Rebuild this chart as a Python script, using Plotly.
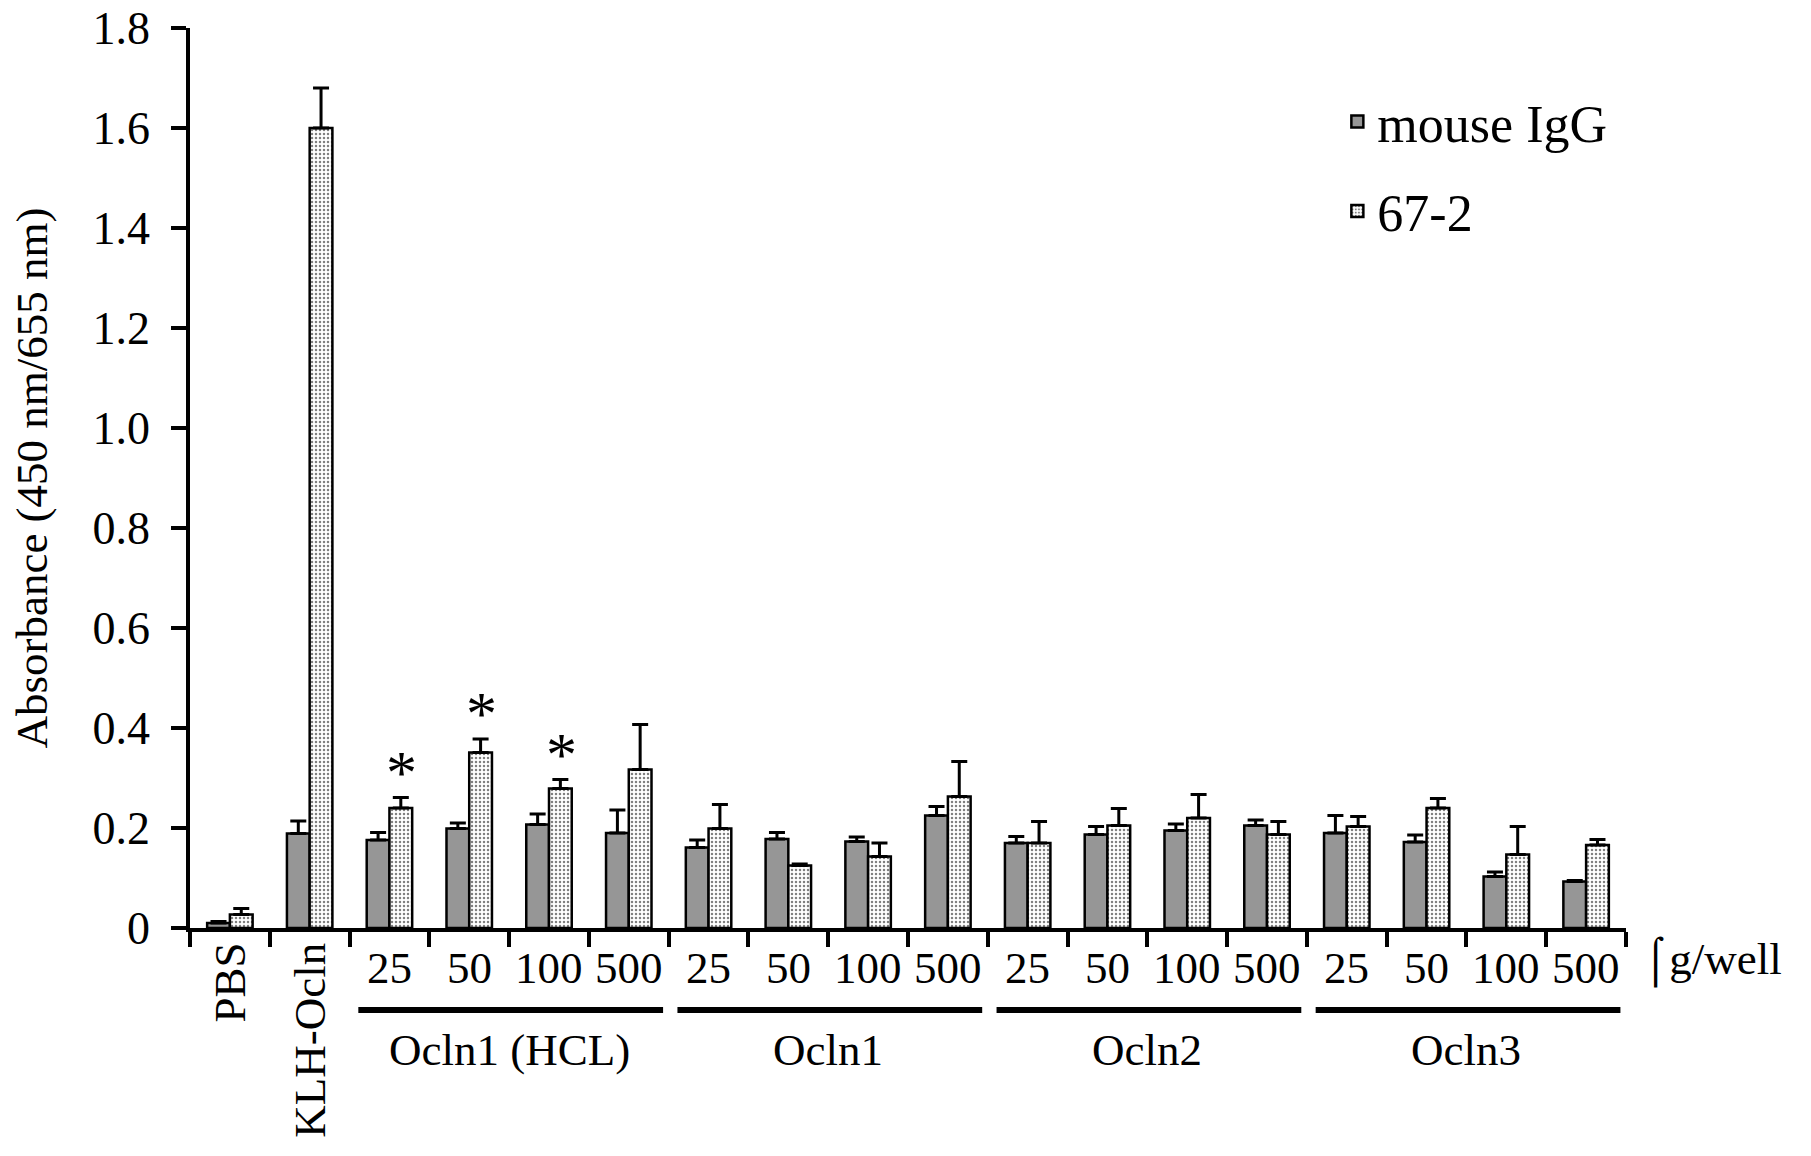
import plotly.graph_objects as go

# ---------------- data ----------------
dose_labels = ["PBS", "KLH-Ocln",
               "25", "50", "100", "500",
               "25", "50", "100", "500",
               "25", "50", "100", "500",
               "25", "50", "100", "500"]
group_names = ["Ocln1 (HCL)", "Ocln1", "Ocln2", "Ocln3"]
group_members = [[2, 3, 4, 5], [6, 7, 8, 9], [10, 11, 12, 13], [14, 15, 16, 17]]

mouse_igg = [0.010, 0.189, 0.176, 0.199, 0.207, 0.190,
             0.161, 0.178, 0.173, 0.225,
             0.170, 0.187, 0.195, 0.205,
             0.190, 0.172, 0.103, 0.093]
mouse_igg_err = [0.003, 0.025, 0.015, 0.011, 0.021, 0.046,
                 0.015, 0.013, 0.009, 0.018,
                 0.013, 0.016, 0.013, 0.011,
                 0.035, 0.014, 0.009, 0.002]
ab_672 = [0.027, 1.600, 0.240, 0.351, 0.279, 0.317,
          0.199, 0.125, 0.143, 0.263,
          0.170, 0.205, 0.220, 0.187,
          0.203, 0.240, 0.147, 0.166]
ab_672_err = [0.012, 0.080, 0.021, 0.027, 0.018, 0.090,
              0.048, 0.003, 0.027, 0.070,
              0.043, 0.034, 0.047, 0.026,
              0.020, 0.019, 0.056, 0.011]
significant_672 = [2, 3, 4]

y_tickvals = [0, 0.2, 0.4, 0.6, 0.8, 1.0, 1.2, 1.4, 1.6, 1.8]
y_ticktext = ["0", "0.2", "0.4", "0.6", "0.8", "1.0", "1.2", "1.4", "1.6", "1.8"]
unit_label = "\u2320g/well"
y_title = "Absorbance (450 nm/655 nm)"

# ---------------- figure ----------------
FONT = "Liberation Serif"
cat_ids = [f"c{i}" for i in range(len(dose_labels))]

fig = go.Figure()
fig.add_trace(go.Bar(
    x=cat_ids, y=mouse_igg, name="mouse IgG",
    marker=dict(color="#969696", line=dict(color="black", width=2.5)),
    error_y=dict(type="data", array=mouse_igg_err, symmetric=False,
                 arrayminus=[0] * len(mouse_igg), color="black",
                 thickness=3, width=8),
    legendgroup="a",
))
fig.add_trace(go.Bar(
    x=cat_ids, y=ab_672, name="67-2",
    marker=dict(color="white", line=dict(color="black", width=2.5),
                pattern=dict(shape=".", fgcolor="black", bgcolor="white",
                             size=4, solidity=0.3)),
    error_y=dict(type="data", array=ab_672_err, symmetric=False,
                 arrayminus=[0] * len(ab_672), color="black",
                 thickness=3, width=8),
    legendgroup="b",
))

annotations = []
# category labels
for i, lab in enumerate(dose_labels):
    if i < 2:
        annotations.append(dict(x=cat_ids[i], xref="x", y=-0.014, yref="paper",
                                text=lab, showarrow=False, textangle=-90,
                                xanchor="center", yanchor="top",
                                font=dict(family=FONT, size=45, color="black")))
    else:
        annotations.append(dict(x=cat_ids[i], xref="x", y=-0.044, yref="paper",
                                text=lab, showarrow=False,
                                xanchor="center", yanchor="middle",
                                font=dict(family=FONT, size=45, color="black")))
# group labels & underline bars
shapes = []
for name, members in zip(group_names, group_members):
    mid = (members[0] + members[-1]) / 2
    annotations.append(dict(x=mid, xref="x", y=-0.136, yref="paper",
                            text=name, showarrow=False,
                            xanchor="center", yanchor="middle",
                            font=dict(family=FONT, size=45, color="black")))
    shapes.append(dict(type="line", xref="x", yref="paper",
                       x0=members[0] - 0.39, x1=members[-1] + 0.43,
                       y0=-0.091, y1=-0.091,
                       line=dict(color="black", width=6)))
# significance stars
for i in significant_672:
    annotations.append(dict(x=cat_ids[i], xref="x", y=ab_672[i] + ab_672_err[i],
                            yref="y", text="*", showarrow=False,
                            xanchor="center", yanchor="bottom", xshift=12, yshift=-10,
                            font=dict(family=FONT, size=62, color="black")))
# unit label
annotations.append(dict(x=1.010, xref="paper", y=-0.037, yref="paper",
                        text=unit_label, showarrow=False,
                        xanchor="left", yanchor="middle",
                        font=dict(family=FONT, size=45, color="black")))

fig.update_layout(
    width=1811, height=1156,
    margin=dict(l=190, r=185, t=28, b=228, autoexpand=False),
    paper_bgcolor="white", plot_bgcolor="white",
    barmode="group", bargap=0.43, bargroupgap=0,
    font=dict(family=FONT, size=45, color="black"),
    showlegend=True,
    legend=dict(x=0.799, y=0.941, xanchor="left", yanchor="top",
                font=dict(family=FONT, size=52, color="black"),
                bgcolor="rgba(0,0,0,0)", tracegroupgap=19,
                traceorder="grouped"),
    annotations=annotations,
    shapes=shapes,
)
fig.update_xaxes(
    type="category", categoryorder="array", categoryarray=cat_ids,
    range=[-0.5, len(cat_ids) - 0.5], automargin=False,
    showticklabels=False, tickson="boundaries",
    ticks="outside", ticklen=15, tickwidth=3.5, tickcolor="black",
    showline=True, linecolor="black", linewidth=3.5,
    showgrid=False, zeroline=False,
)
fig.update_yaxes(
    range=[0, 1.8], tickvals=y_tickvals, ticktext=y_ticktext, automargin=False,
    ticks="outside", ticklen=15, tickwidth=3.5, tickcolor="black",
    ticklabelstandoff=12,
    tickfont=dict(family=FONT, size=46, color="black"),
    showline=True, linecolor="black", linewidth=3.5,
    showgrid=False, zeroline=False,
    title=dict(text=y_title, font=dict(family=FONT, size=45, color="black"),
               standoff=32),
)

fig.write_html("out.html")
